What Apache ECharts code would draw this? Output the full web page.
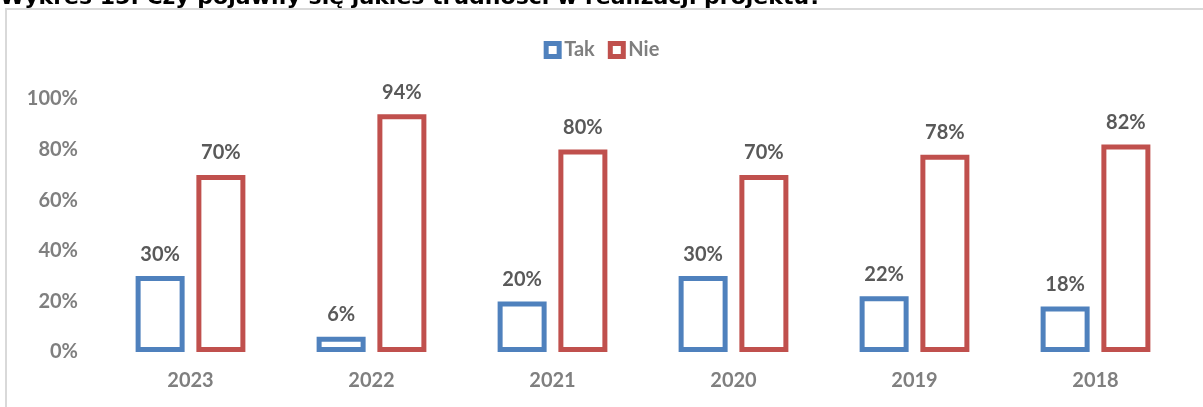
<!DOCTYPE html>
<html>
<head>
<meta charset="utf-8">
<script src="https://cdn.jsdelivr.net/npm/echarts@6/dist/echarts.min.js"></script>
<style>
  html, body { margin: 0; padding: 0; background: #fff; }
  #chart { width: 1203px; height: 407px; }
</style>
</head>
<body>
<div id="chart"></div>
<script>
const years = ["2023", "2022", "2021", "2020", "2019", "2018"];
const tak = [30, 6, 20, 30, 22, 18];
const nie = [70, 94, 80, 70, 78, 82];
const yTicks = [0, 20, 40, 60, 80, 100];

const font = "Lato, 'Open Sans', sans-serif";
const chart = echarts.init(document.getElementById("chart"));

const label = {
  show: true,
  position: "top",
  distance: 12,
  formatter: "{c}%",
  color: "#595959",
  fontFamily: font,
  fontWeight: "bold",
  fontSize: 20
};

chart.setOption({
  animation: false,
  graphic: [
    {
      type: "rect",
      shape: { x: 6, y: 9, width: 1300, height: 500 },
      style: { fill: "none", stroke: "#d9d9d9", lineWidth: 2 }
    },
    {
      type: "text",
      x: 0,
      y: 9,
      style: {
        text: "Wykres 15. Czy pojawiły się jakieś trudności w realizacji projektu?",
        fill: "#000",
        font: "bold 22px 'DejaVu Sans', sans-serif",
        verticalAlign: "bottom"
      }
    }
  ],
  legend: {
    top: 35,
    left: "center",
    itemWidth: 13,
    itemHeight: 13,
    itemGap: 13,
    icon: "rect",
    itemStyle: { borderWidth: 5 },
    textStyle: {
      color: "#7f7f7f",
      fontFamily: font,
      fontWeight: "bold",
      fontSize: 20
    },
    data: ["Tak", "Nie"]
  },
  grid: { left: 100, right: 17, top: 99, bottom: 55 },
  xAxis: {
    type: "category",
    data: years,
    axisLine: { show: false },
    axisTick: { show: false },
    axisLabel: {
      color: "#7f7f7f",
      fontFamily: font,
      fontWeight: "bold",
      fontSize: 20,
      margin: 19
    }
  },
  yAxis: {
    type: "value",
    min: yTicks[0],
    max: yTicks[yTicks.length - 1],
    interval: 20,
    splitLine: { show: false },
    axisLine: { show: false },
    axisTick: { show: false },
    axisLabel: {
      formatter: "{value}%",
      color: "#7f7f7f",
      fontFamily: font,
      fontWeight: "bold",
      fontSize: 20,
      margin: 22
    }
  },
  series: [
    {
      name: "Tak",
      type: "bar",
      data: tak,
      barWidth: 49,
      barGap: "24%",
      itemStyle: { color: "#ffffff", borderColor: "#4f81bd", borderWidth: 5 },
      label: label
    },
    {
      name: "Nie",
      type: "bar",
      data: nie,
      barWidth: 49,
      barGap: "24%",
      itemStyle: { color: "#ffffff", borderColor: "#c0504d", borderWidth: 5 },
      label: label
    }
  ]
});
</script>
</body>
</html>
